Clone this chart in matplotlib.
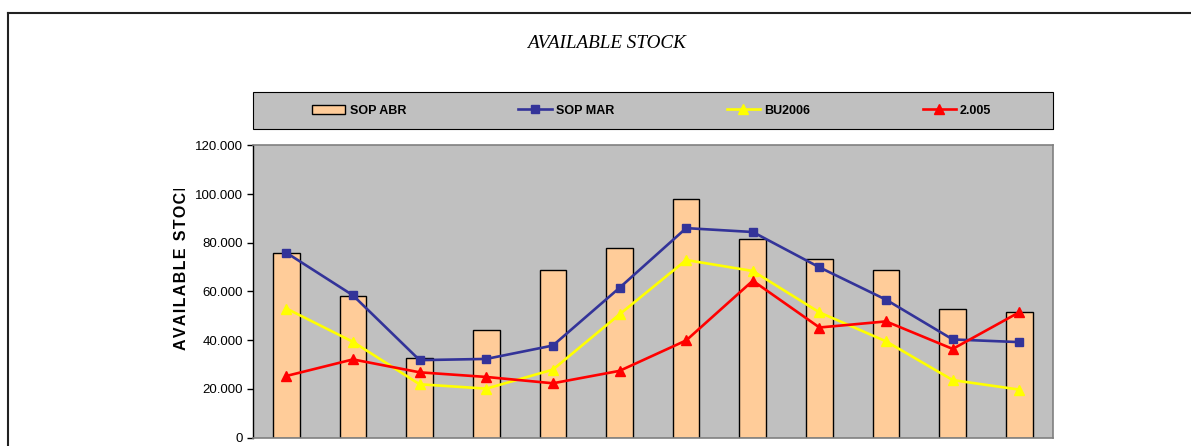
import matplotlib
matplotlib.use("Agg")
import matplotlib.pyplot as plt
import numpy as np
from matplotlib.patches import Rectangle
from matplotlib.lines import Line2D
from matplotlib.transforms import Bbox, TransformedBbox
from matplotlib.ticker import FuncFormatter

# ---- data ----
categories = ["JAN", "FEB", "MAR", "APR", "MAY", "JUN",
              "JUL", "AUG", "SEP", "OCT", "NOV", "DEC"]
sop_abr = [75600, 58200, 32700, 44200, 68900, 77900,
           97800, 81600, 73200, 69000, 52600, 51500]
sop_mar = [75900, 58400, 31800, 32300, 37800, 61500,
           86000, 84400, 69900, 56600, 40300, 39200]
bu2006 = [53000, 39300, 21900, 20100, 27900, 50600,
          72900, 68400, 51400, 39500, 23600, 19700]
y2005 = [25300, 32100, 26800, 24900, 22300, 27400,
         39900, 64400, 45200, 47700, 36400, 51500]
yticks = [0, 20000, 40000, 60000, 80000, 100000, 120000]

W, H = 1191, 446
fig = plt.figure(figsize=(W / 100, H / 100), dpi=100)
fig.patch.set_facecolor("white")

def fx(px):
    return px / W

def fy(py):
    return 1 - py / H

# plot area
left, right, top, bottom = 253, 1052.7, 145.3, 437.6
ax = fig.add_axes([fx(left), fy(bottom), fx(right - left), (bottom - top) / H])
ax.set_facecolor("#C0C0C0")

x = np.arange(len(categories))
bars = ax.bar(x, sop_abr, width=0.4, color="#FFCC99", edgecolor="black",
              linewidth=1.0, label="SOP ABR", zorder=2)
l1, = ax.plot(x, sop_mar, color="#333399", marker="s", markersize=5.5,
              linewidth=1.9, label="SOP MAR", zorder=3)
l2, = ax.plot(x, bu2006, color="#FFFF00", marker="^", markersize=6.5,
              linewidth=1.9, label="BU2006", zorder=3)
l3, = ax.plot(x, y2005, color="#FF0000", marker="^", markersize=6.5,
              linewidth=1.9, label="2.005", zorder=4)

ax.set_xlim(-0.5, len(categories) - 0.5)
ax.set_ylim(0, 120000)
ax.set_yticks(yticks)
ax.yaxis.set_major_formatter(FuncFormatter(
    lambda v, p: "0" if v == 0 else f"{int(v):,}".replace(",", ".")))
ax.tick_params(axis="y", direction="out", length=4, width=1, pad=3,
               labelsize=9.5, colors="black", labelfontfamily="Liberation Sans")
ax.tick_params(axis="x", bottom=False, labelbottom=False)
for s in ["top", "right", "bottom"]:
    ax.spines[s].set_color("#808080")
    ax.spines[s].set_linewidth(1.2)
ax.spines["left"].set_color("black")
ax.spines["left"].set_linewidth(1.0)

# y label (letter-spaced), clipped at the top like in the original
spaced = "\u200a".join("AVAILABLE STOCK")
ylab = fig.text(fx(181), fy(350), spaced, rotation=90,
                rotation_mode="anchor", ha="left", va="center",
                fontsize=11.5, fontweight="bold",
                family=["Liberation Sans", "DejaVu Sans"])
ylab.set_clip_box(TransformedBbox(Bbox([[0, 0], [1, fy(189)]]), fig.transFigure))
ylab.set_clip_on(True)

# title
fig.text(fx(606), fy(43), "AVAILABLE STOCK", ha="center", va="center",
         fontsize=13.8, fontstyle="italic", family="Liberation Serif")

# legend box (with shadow)
lx0, lx1, ly0, ly1 = 253.3, 1052.7, 92.3, 128.7
fig.add_artist(Rectangle((fx(lx0 + 1.5), fy(ly1 + 1.5)), fx(lx1 - lx0), (ly1 - ly0) / H,
                         transform=fig.transFigure, facecolor="#404040",
                         edgecolor="none", zorder=1))
fig.add_artist(Rectangle((fx(lx0), fy(ly1)), fx(lx1 - lx0), (ly1 - ly0) / H,
                         transform=fig.transFigure, facecolor="#C0C0C0",
                         edgecolor="black", linewidth=0.8, zorder=2))
leg = fig.legend([bars, l1, l2, l3], ["SOP ABR", "SOP MAR", "BU2006", "2.005"],
                 loc="center left",
                 bbox_to_anchor=(fx(312), fy((ly0 + ly1) / 2)),
                 ncol=4, frameon=False, borderpad=0, borderaxespad=0,
                 handlelength=2.65, handleheight=0.7, handletextpad=0.35,
                 columnspacing=9.0,
                 prop={"family": "Liberation Sans", "weight": "bold", "size": 9})
leg.set_zorder(3)

# outer chart border (top and left)
fig.add_artist(Line2D([fx(7.5), 1], [fy(13), fy(13)], transform=fig.transFigure,
                      color="#222222", linewidth=1.5))
fig.add_artist(Line2D([fx(7.5), fx(7.5)], [fy(13), 0], transform=fig.transFigure,
                      color="#222222", linewidth=1.5))

fig.savefig("out.png", dpi=100, facecolor="white")
